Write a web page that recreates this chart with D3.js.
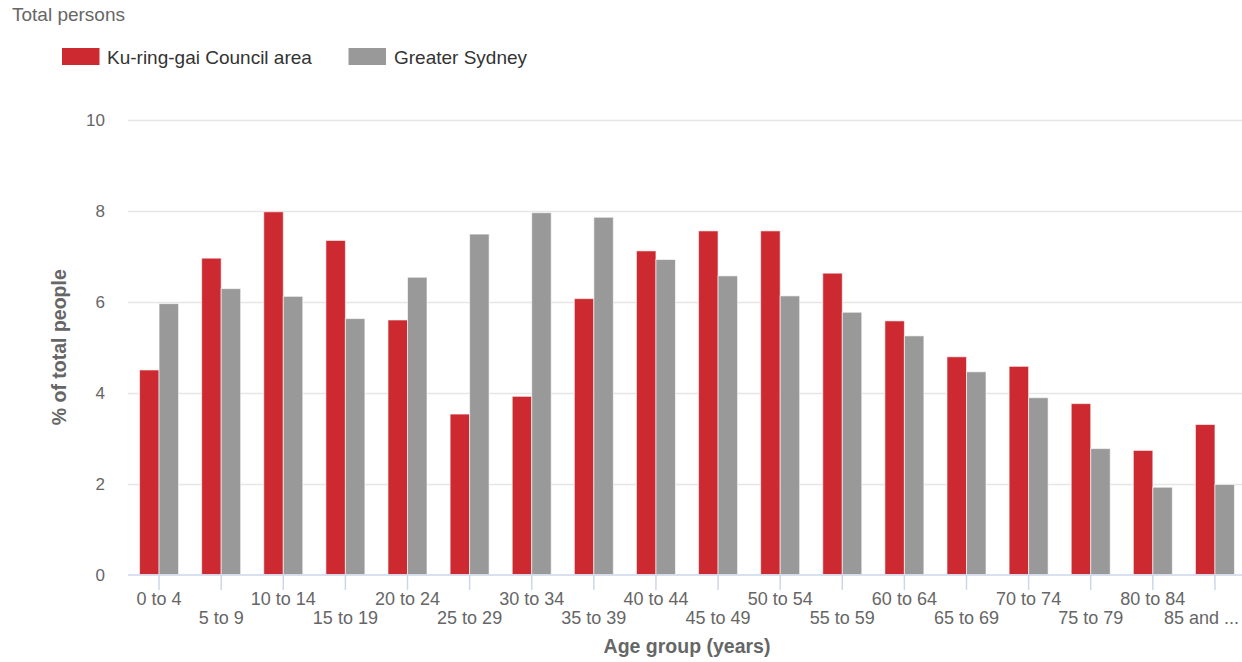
<!DOCTYPE html>
<html>
<head>
<meta charset="utf-8">
<script src="https://cdn.jsdelivr.net/npm/d3@7"></script>
<style>
  html, body { margin: 0; padding: 0; background: #fff; }
  svg { display: block; font-family: "Liberation Sans", Arial, sans-serif; }
</style>
</head>
<body>
<svg id="chart" width="1242" height="662"></svg>
<script>
const categories = ["0 to 4","5 to 9","10 to 14","15 to 19","20 to 24","25 to 29","30 to 34","35 to 39","40 to 44","45 to 49","50 to 54","55 to 59","60 to 64","65 to 69","70 to 74","75 to 79","80 to 84","85 and ..."];
const seriesNames = ["Ku-ring-gai Council area", "Greater Sydney"];
const kuringgai = [4.50, 6.96, 7.98, 7.35, 5.60, 3.53, 3.92, 6.07, 7.12, 7.56, 7.56, 6.63, 5.58, 4.79, 4.58, 3.76, 2.73, 3.30];
const greaterSydney = [5.96, 6.29, 6.12, 5.63, 6.54, 7.49, 7.96, 7.86, 6.93, 6.57, 6.13, 5.77, 5.25, 4.46, 3.89, 2.77, 1.92, 1.98];
const yTicks = [0, 2, 4, 6, 8, 10];
const colors = ["#cc2a30", "#999999"];

const svg = d3.select("#chart");
const plot = { left: 128, right: 1246, top: 120, bottom: 574.5 };

const x = d3.scaleBand().domain(categories).range([plot.left, plot.right]).padding(0);
const xInner = d3.scaleBand().domain(seriesNames).range([-19.5, 19.5]).padding(0);
const y = d3.scaleLinear().domain([0, 10]).range([plot.bottom, plot.top]);

// Title
svg.append("text").attr("x", 12).attr("y", 21)
  .attr("fill", "#666").style("font-size", "19px").text("Total persons");

// Legend
const legendItems = [
  { name: seriesNames[0], sx: 62, tx: 107 },
  { name: seriesNames[1], sx: 348.5, tx: 394 }
];
legendItems.forEach((d, i) => {
  svg.append("rect").attr("x", d.sx).attr("y", 48).attr("width", 37.5).attr("height", 17)
    .attr("fill", colors[i]);
  svg.append("text").attr("x", d.tx).attr("y", 64).attr("fill", "#333")
    .style("font-size", "19px").text(d.name);
});

// Grid lines
svg.append("g").selectAll("line").data(yTicks.filter(t => t !== 0)).join("line")
  .attr("x1", plot.left).attr("x2", 1242)
  .attr("y1", d => Math.round(y(d)) + 0.5).attr("y2", d => Math.round(y(d)) + 0.5)
  .attr("stroke", "#e6e6e6").attr("stroke-width", 1.5);

// Y axis labels
const yAxis = d3.axisLeft(y).tickValues(yTicks).tickSize(0).tickPadding(0);
const yg = svg.append("g").attr("transform", `translate(105,0)`).call(yAxis);
yg.select(".domain").remove();
yg.selectAll("text").attr("fill", "#666").style("font-size", "17px")
  .style("font-family", "'Liberation Sans', Arial, sans-serif").attr("dy", "0.35em");

// Y axis title
svg.append("text")
  .attr("transform", `translate(66,${(plot.top + plot.bottom) / 2}) rotate(-90)`)
  .attr("text-anchor", "middle").attr("fill", "#666")
  .style("font-size", "19.5px").style("font-weight", "bold")
  .text("% of total people");

// Bars
const seriesData = [kuringgai, greaterSydney];
seriesData.forEach((vals, si) => {
  svg.append("g").selectAll("rect").data(vals).join("rect")
    .attr("x", (d, i) => x(categories[i]) + x.bandwidth() / 2 + xInner(seriesNames[si]))
    .attr("width", xInner.bandwidth())
    .attr("y", d => y(d))
    .attr("height", d => y(0) - y(d))
    .attr("fill", colors[si])
    .attr("stroke", "#ffffff").attr("stroke-opacity", 0.6).attr("stroke-width", 1);
});

// X axis
const xAxis = d3.axisBottom(x).tickSize(15).tickPadding(0);
const xg = svg.append("g").attr("transform", `translate(0,${plot.bottom + 0.5})`).call(xAxis);
xg.select(".domain").attr("stroke", "#ccd6eb").attr("stroke-width", 1.5)
  .attr("d", `M${plot.left},0H1242`);
xg.selectAll(".tick line").attr("stroke", "#ccd6eb").attr("stroke-width", 1.5);
xg.selectAll(".tick text")
  .attr("fill", "#666").style("font-size", "18px")
  .style("font-family", "'Liberation Sans', Arial, sans-serif")
  .attr("dy", null)
  .attr("y", (d, i) => (i % 2 === 0 ? 30 : 49));

// Keep the last label inside the picture (shifted left as in the reference)
const lastCat = categories[categories.length - 1];
xg.selectAll(".tick").filter(d => d === lastCat).select("text")
  .attr("text-anchor", "end")
  .attr("x", 1239 - (x(lastCat) + x.bandwidth() / 2));

// X axis title
svg.append("text")
  .attr("x", (plot.left + plot.right) / 2).attr("y", 653)
  .attr("text-anchor", "middle").attr("fill", "#666")
  .style("font-size", "19.5px").style("font-weight", "bold")
  .text("Age group (years)");
</script>
</body>
</html>
